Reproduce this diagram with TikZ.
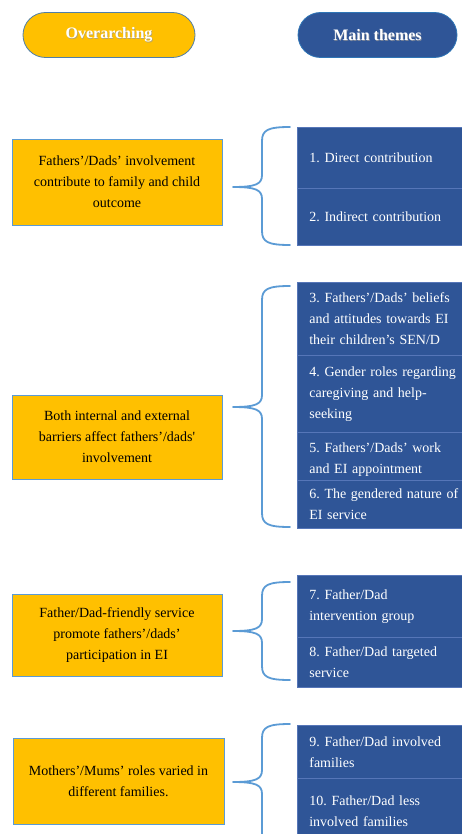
\documentclass[tikz,border=0pt]{standalone}
\usepackage{fontspec}
\setmainfont{Liberation Serif}[Ligatures=TeXOff]
\frenchspacing
\definecolor{amber}{HTML}{FFC000}
\definecolor{navy}{HTML}{2F5597}
\definecolor{navyline}{HTML}{5676B8}
\definecolor{skyline}{HTML}{5B9BD5}
\definecolor{pillrim}{HTML}{4F7EA8}
\definecolor{pillrimb}{HTML}{2E75B6}
\tikzset{
  pill/.style={rounded corners=22.5pt, minimum height=45pt, line width=0.8pt},
  pilltext/.style={text=white, font=\fontsize{16}{19}\selectfont\bfseries},
  pillshadow/.style={text=black!40, opacity=0.7, font=\fontsize{16}{19}\selectfont\bfseries},
  overbox/.style={draw=skyline, fill=amber, line width=0.8pt, minimum width=210pt,
    align=center, font=\fontsize{14}{21}\selectfont},
  themebox/.style={draw=navyline, fill=navy, line width=0.7pt, anchor=north west,
    text=white, text width=160pt, inner xsep=12pt, inner ysep=0pt, align=left,
    font=\fontsize{14}{21}\selectfont},
  bracket/.style={draw=skyline, line width=1.8pt, line cap=round, line join=round}
}
% curly bracket: tip on the left, arms reaching right to the theme column
\newcommand{\themebrace}[4]{%
  \coordinate (#1-top) at (290,#2);
  \coordinate (#1-tip) at (233,#3);
  \coordinate (#1-bot) at (290,#4);
  \draw[bracket] (#1-top) .. controls (268,#2) and (262,{#2+3}) .. (262,{#2+14})
    -- (262,{#3-12}) .. controls (262,{#3-3}) and (256,#3) .. (#1-tip)
    (#1-tip) .. controls (256,#3) and (262,{#3+3}) .. (262,{#3+12})
    -- (262,{#4-14}) .. controls (262,{#4-3}) and (268,#4) .. (#1-bot);
}
\begin{document}
\begin{tikzpicture}[x=1pt, y=-1pt]
\path[use as bounding box, fill=white] (0,0) rectangle (462,834);
\clip (0,0) rectangle (462,834);

% column headings
\node[pill, draw=pillrim, fill=amber, minimum width=172pt] (over) at (109,35) {};
\node[pillshadow] at ([shift={(0.7,0.8)}]over.center) {Overarching};
\node[pilltext] (overtext) at (over.center) {Overarching};
\node[pill, draw=pillrimb, fill=navy, minimum width=159pt] (main) at (377.5,35) {};
\node[pillshadow] at ([shift={(0.7,0.8)}]main.center) {Main themes};
\node[pilltext] (maintext) at (main.center) {Main themes};

% group 1
\node[overbox, minimum height=86pt] (o1) at (117,182)
  {Fathers’/Dads’ involvement\\contribute to family and child\\outcome};
\node[themebox, minimum height=61pt] (t1) at (297,127) {1. Direct contribution};
\node[themebox, minimum height=57pt] (t2) at (297,188) {2. Indirect contribution};
\themebrace{b1}{127}{187}{245}

% group 2
\node[overbox, minimum height=84pt] (o2) at (117,437)
  {Both internal and external\\barriers affect fathers’/dads'\\involvement};
\node[themebox, minimum height=73pt] (t3) at (297,282)
  {3. Fathers’/Dads’ beliefs\\and attitudes towards EI\\their children’s SEN/D};
\node[themebox, minimum height=77pt] (t4) at (297,355)
  {4. Gender roles regarding\\caregiving and help-\\seeking};
\node[themebox, minimum height=48pt, text depth=0pt] (t5) at (297,432)
  {\raisebox{-3pt}{\parbox[b]{160pt}{5. Fathers’/Dads’ work\\and EI appointment}}};
\node[themebox, minimum height=48pt] (t6) at (297,480)
  {6. The gendered nature of\\EI service};
\themebrace{b2}{286}{407}{527}

% group 3
\node[overbox, minimum height=82pt] (o3) at (117,635)
  {Father/Dad-friendly service\\promote fathers’/dads’\\participation in EI};
\node[themebox, minimum height=62pt] (t7) at (297,575)
  {7. Father/Dad\\intervention group};
\node[themebox, minimum height=50pt] (t8) at (297,637)
  {8. Father/Dad targeted\\service};
\themebrace{b3}{582}{631}{680}

% group 4
\node[overbox, minimum width=211pt, minimum height=86pt] (o4) at (118.5,781)
  {Mothers’/Mums’ roles varied in\\different families.};
\node[themebox, minimum height=53pt] (t9) at (297,725)
  {9. Father/Dad involved\\families};
\node[themebox, minimum height=66pt] (t10) at (297,778)
  {10. Father/Dad less\\involved families};
\themebrace{b4}{724}{782}{860}
\end{tikzpicture}
\end{document}
